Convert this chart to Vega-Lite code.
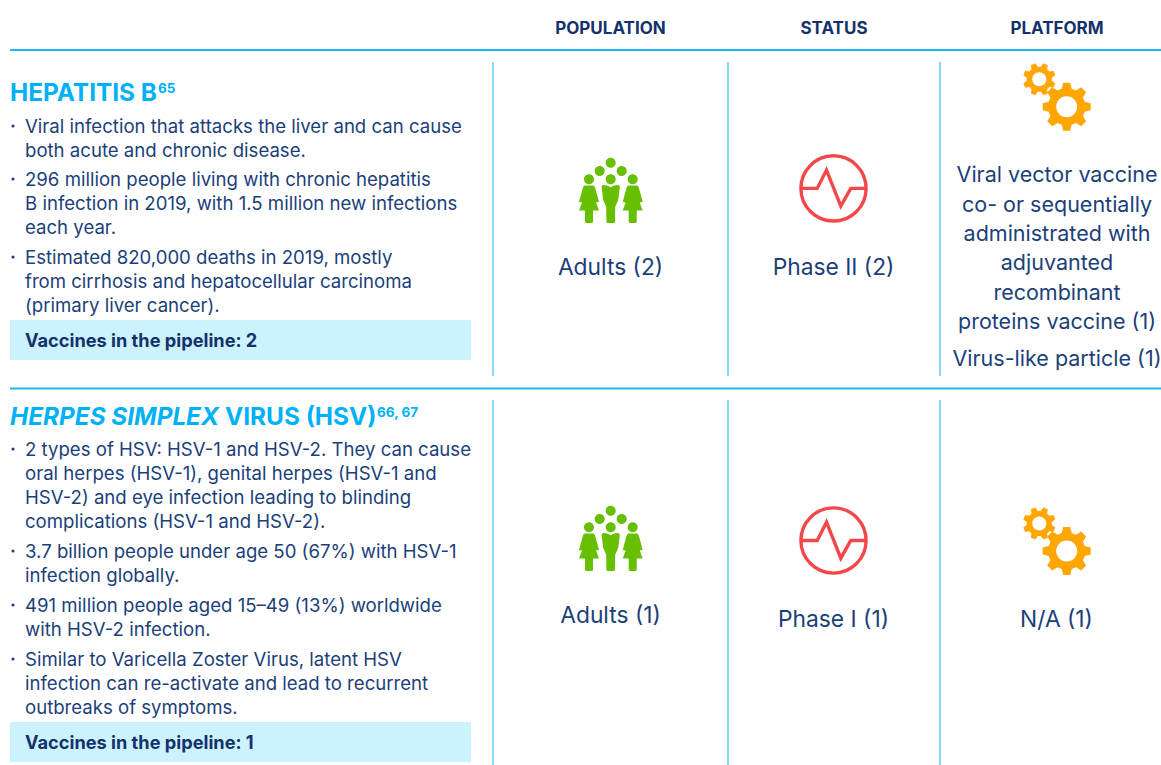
{
"$schema":"https://vega.github.io/schema/vega-lite/v6.json",
"width":1161,"height":765,"padding":0,"autosize":{"type":"none"},"background":"#ffffff",
"config":{"view":{"stroke":null}},
"datasets":{
"bands":[{"x":10,"x2":471,"y":320,"y2":360},{"x":10,"x2":471,"y":722,"y2":762}],
"hlines":[{"x":10,"x2":1161,"y":50},{"x":10,"x2":1161,"y":388.5}],
"vlines":[{"x":493,"y":62,"y2":376},{"x":728,"y":62,"y2":376},{"x":940,"y":62,"y2":376},{"x":493,"y":400,"y2":765},{"x":728,"y":400,"y2":765},{"x":940,"y":400,"y2":765}],
"headers":[{"t":"POPULATION","x":610.5,"y":33.5},{"t":"STATUS","x":834,"y":33.5},{"t":"PLATFORM","x":1057,"y":33.5}],
"titles":[{"t":"HEPATITIS B","x":10,"y":101},{"t":"VIRUS (HSV)","x":225,"y":425}],
"titlesItalic":[{"t":"HERPES SIMPLEX","x":10,"y":425}],
"supers":[{"t":"65","x":158,"y":93},{"t":"66, 67","x":377,"y":417}],
"body":[
{"t":"Viral infection that attacks the liver and can cause","x":25,"y":133},
{"t":"both acute and chronic disease.","x":25,"y":157},
{"t":"296 million people living with chronic hepatitis","x":25,"y":186},
{"t":"B infection in 2019, with 1.5 million new infections","x":25,"y":210},
{"t":"each year.","x":25,"y":234},
{"t":"Estimated 820,000 deaths in 2019, mostly","x":25,"y":264},
{"t":"from cirrhosis and hepatocellular carcinoma","x":25,"y":288},
{"t":"(primary liver cancer).","x":25,"y":312},
{"t":"2 types of HSV: HSV-1 and HSV-2. They can cause","x":25,"y":456},
{"t":"oral herpes (HSV-1), genital herpes (HSV-1 and","x":25,"y":480},
{"t":"HSV-2) and eye infection leading to blinding","x":25,"y":504},
{"t":"complications (HSV-1 and HSV-2).","x":25,"y":528},
{"t":"3.7 billion people under age 50 (67%) with HSV-1","x":25,"y":558},
{"t":"infection globally.","x":25,"y":582},
{"t":"491 million people aged 15–49 (13%) worldwide","x":25,"y":612},
{"t":"with HSV-2 infection.","x":25,"y":636},
{"t":"Similar to Varicella Zoster Virus, latent HSV","x":25,"y":666},
{"t":"infection can re-activate and lead to recurrent","x":25,"y":690},
{"t":"outbreaks of symptoms.","x":25,"y":714}
],
"bullets":[{"x":13,"y":126},{"x":13,"y":179},{"x":13,"y":257},{"x":13,"y":449},{"x":13,"y":551},{"x":13,"y":605},{"x":13,"y":659}],
"callouts":[{"t":"Vaccines in the pipeline: 2","x":25,"y":346.5},{"t":"Vaccines in the pipeline: 1","x":25,"y":748.5}],
"labels":[
{"t":"Viral vector vaccine","x":1057,"y":182},{"t":"co- or sequentially","x":1057,"y":212},{"t":"administrated with","x":1057,"y":241},{"t":"adjuvanted","x":1057,"y":270},{"t":"recombinant","x":1057,"y":300},{"t":"proteins vaccine (1)","x":1057,"y":329},{"t":"Virus-like particle (1)","x":1057,"y":366}
],
"shortLabels":[
{"t":"Adults (2)","x":610.5,"y":275},{"t":"Phase II (2)","x":833.5,"y":275},
{"t":"Adults (1)","x":610.5,"y":623},{"t":"Phase I (1)","x":833.5,"y":627},{"t":"N/A (1)","x":1056.5,"y":627}
],
"icons":[
{"icon":"people","x":610.7,"y":190},{"icon":"people","x":610.7,"y":538},
{"icon":"big gear","x":1066.7,"y":106.7},{"icon":"small gear","x":1039.3,"y":79.3},
{"icon":"big gear","x":1066.7,"y":551},{"icon":"small gear","x":1039.3,"y":523.5}
],
"pulse":[{"x":833.5,"y":188.4},{"x":833.5,"y":540.5}]
},
"encoding":{
"x":{"field":"x","type":"quantitative","axis":null,"scale":{"domain":[0,1161],"nice":false,"zero":false}},
"y":{"field":"y","type":"quantitative","axis":null,"scale":{"domain":[765,0],"nice":false,"zero":false}}
},
"layer":[
{"data":{"name":"bands"},"mark":{"type":"rect","color":"#CCF2FD"},"encoding":{"x2":{"field":"x2"},"y2":{"field":"y2"}}},
{"data":{"name":"hlines"},"mark":{"type":"rule","color":"#1DB8F2","strokeWidth":2},"encoding":{"x2":{"field":"x2"}}},
{"data":{"name":"vlines"},"mark":{"type":"rule","color":"#5CCBF5","strokeWidth":1.5},"encoding":{"y2":{"field":"y2"}}},
{"data":{"name":"headers"},"mark":{"type":"text","font":"Inter","fontWeight":700,"fontSize":17,"color":"#14316B","align":"center","baseline":"alphabetic"},"encoding":{"text":{"field":"t"}}},
{"data":{"name":"titles"},"mark":{"type":"text","font":"Inter","fontWeight":700,"fontSize":24.4,"color":"#00B2F5","align":"left","baseline":"alphabetic"},"encoding":{"text":{"field":"t"}}},
{"data":{"name":"titlesItalic"},"mark":{"type":"text","font":"Inter","fontWeight":700,"fontStyle":"italic","fontSize":24.3,"color":"#00B2F5","align":"left","baseline":"alphabetic"},"encoding":{"text":{"field":"t"}}},
{"data":{"name":"supers"},"mark":{"type":"text","font":"Inter","fontWeight":700,"fontSize":13.5,"color":"#00B2F5","align":"left","baseline":"alphabetic"},"encoding":{"text":{"field":"t"}}},
{"data":{"name":"body"},"mark":{"type":"text","font":"Inter","fontSize":18.6,"color":"#1B3F7A","align":"left","baseline":"alphabetic"},"encoding":{"text":{"field":"t"}}},
{"data":{"name":"bullets"},"mark":{"type":"point","shape":"circle","filled":true,"size":10,"opacity":1,"color":"#1B3F7A"}},
{"data":{"name":"callouts"},"mark":{"type":"text","font":"Inter","fontWeight":700,"fontSize":18.2,"color":"#14316B","align":"left","baseline":"alphabetic"},"encoding":{"text":{"field":"t"}}},
{"data":{"name":"labels"},"mark":{"type":"text","font":"Inter","fontSize":21.5,"color":"#1B3F7A","align":"center","baseline":"alphabetic"},"encoding":{"text":{"field":"t"}}},
{"data":{"name":"shortLabels"},"mark":{"type":"text","font":"Inter","fontSize":22.8,"color":"#1B3F7A","align":"center","baseline":"alphabetic"},"encoding":{"text":{"field":"t"}}},
{"data":{"name":"icons"},"mark":{"type":"point","filled":true,"size":4,"opacity":1,"strokeWidth":0},
"encoding":{
"shape":{"field":"icon","type":"nominal","legend":null,"scale":{"domain":["people","big gear","small gear"],"range":[
"M-5,-27.3a5,5 0 1,0 10,0a5,5 0 1,0 -10,0ZM-16,-19a5,5 0 1,0 10,0a5,5 0 1,0 -10,0ZM6,-19a5,5 0 1,0 10,0a5,5 0 1,0 -10,0ZM-26.7,-10.7a5,5 0 1,0 10,0a5,5 0 1,0 -10,0ZM-5,-10.7a5,5 0 1,0 10,0a5,5 0 1,0 -10,0ZM17,-10.7a5,5 0 1,0 10,0a5,5 0 1,0 -10,0ZM0,-2.5C-1.5,-4 -4,-5 -7,-5Q-9.5,-5 -9,-2L-7.5,10L-4.5,16.7L-4.3,31.5Q-4.3,33 -3,33L3,33Q4.3,33 4.3,31.5L4.5,16.7L7.5,10L9,-2Q9.5,-5 7,-5C4,-5 1.5,-4 0,-2.5ZM-26.2,-4.5h9q1.5,.5 2,3.5l3.5,13l-3,.5l3,8h-6v11q0,1.5 -1.5,1.5h-5q-1.5,0 -1.5,-1.5v-11h-6l3,-8l-3,-.5l3.5,-13q.5,-3 2,-3.5ZM17.5,-4.5h9q1.5,.5 2,3.5l3.5,13l-3,.5l3,8h-6v11q0,1.5 -1.5,1.5h-5q-1.5,0 -1.5,-1.5v-11h-6l3,-8l-3,-.5l3.5,-13q.5,-3 2,-3.5Z",
"M-5,-18L-3.5,-24L3.5,-24L5,-18L9.19,-16.26L14.5,-19.45L19.45,-14.5L16.26,-9.19L18,-5L24,-3.5L24,3.5L18,5L16.26,9.19L19.45,14.5L14.5,19.45L9.19,16.26L5,18L3.5,24L-3.5,24L-5,18L-9.19,16.26L-14.5,19.45L-19.45,14.5L-16.26,9.19L-18,5L-24,3.5L-24,-3.5L-18,-5L-16.26,-9.19L-19.45,-14.5L-14.5,-19.45L-9.19,-16.26ZM0,-10.5C-5.8,-10.5 -10.5,-5.8 -10.5,0C-10.5,5.8 -5.8,10.5 0,10.5C5.8,10.5 10.5,5.8 10.5,0C10.5,-5.8 5.8,-10.5 0,-10.5Z",
"M1.53,-12.57L4.02,-15.98L8.46,-14.14L7.81,-9.97L9.97,-7.81L14.14,-8.46L15.98,-4.02L12.57,-1.53L12.57,1.53L15.98,4.02L14.14,8.46L9.97,7.81L7.81,9.97L8.46,14.14L4.02,15.98L1.53,12.57L-1.53,12.57L-4.02,15.98L-8.46,14.14L-7.81,9.97L-9.97,7.81L-14.14,8.46L-15.98,4.02L-12.57,1.53L-12.57,-1.53L-15.98,-4.02L-14.14,-8.46L-9.97,-7.81L-7.81,-9.97L-8.46,-14.14L-4.02,-15.98L-1.53,-12.57ZM0,-7C-3.87,-7 -7,-3.87 -7,0C-7,3.87 -3.87,7 0,7C3.87,7 7,3.87 7,0C7,-3.87 3.87,-7 0,-7Z"
]}},
"color":{"field":"icon","type":"nominal","legend":null,"scale":{"domain":["people","big gear","small gear"],"range":["#66BF00","#FFA700","#FFA700"]}}
}},
{"data":{"name":"pulse"},"mark":{"type":"point","filled":false,"size":4,"opacity":1,"color":"#F5474A","strokeWidth":3.4,
"shape":"M-32.6,0C-32.6,-18 -18,-32.6 0,-32.6C18,-32.6 32.6,-18 32.6,0C32.6,18 18,32.6 0,32.6C-18,32.6 -32.6,18 -32.6,0ZM-32.6,0L-16.3,0L-7,-18.3L7.3,17.7L17.3,0L32.6,0"}}
]
}
